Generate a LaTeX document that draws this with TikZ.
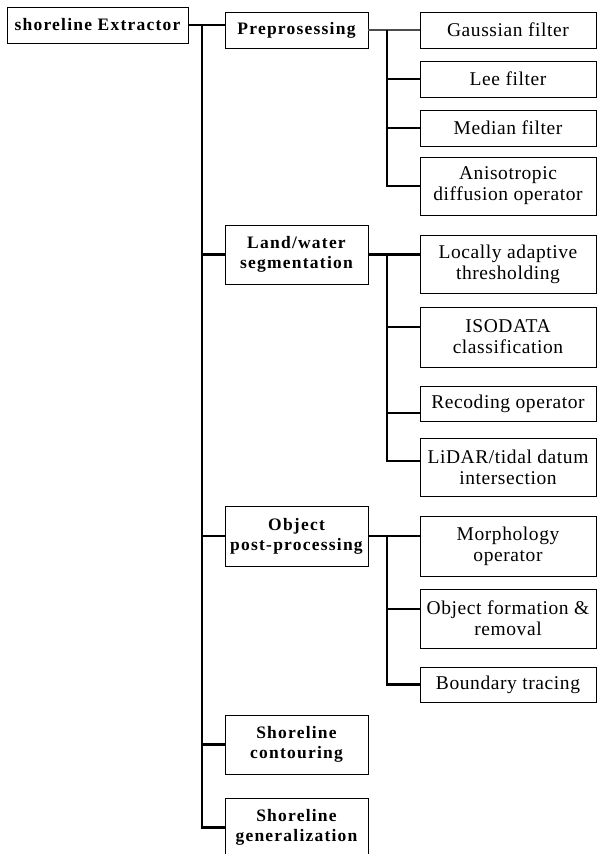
\documentclass[tikz,border=0pt]{standalone}
\usepackage{fontspec}
\setmainfont{Liberation Serif}[LetterSpace=3]
\newfontfamily\stagefont{Liberation Serif}[LetterSpace=7]
\usetikzlibrary{shadows}

\tikzset{
  box/.style={draw, fill=white, line width=0.9pt, align=center, inner sep=0pt,
    font=\fontsize{19.5}{21}\selectfont,
    drop shadow={shadow xshift=1.2pt, shadow yshift=-1.2pt, fill=black, opacity=0.85}},
  rootbox/.style={box, font=\fontsize{17.5}{20}\selectfont\stagefont\bfseries, minimum width=181pt, minimum height=36pt},
  stagebox/.style={box, font=\fontsize{17.5}{20}\selectfont\stagefont\bfseries, minimum width=143pt},
  leafbox/.style={box, minimum width=176pt},
  link/.style={line width=2.2pt},
  thinlink/.style={line width=1.1pt, black!70}
}

\begin{document}
\begin{tikzpicture}[x=1pt, y=-1pt]
                \useasboundingbox (0,0) rectangle (597,854);
                \clip (0,0) rectangle (597,854);
                \fill[white] (0,0) rectangle (597,854);

                \coordinate (trunk) at (202,0);
                \coordinate (pretrunk) at (387,0);
                \coordinate (lwtrunk) at (387,0);
                \coordinate (objtrunk) at (387,0);

                \node[rootbox] (root) at (97.5,25) {shoreline Extractor};

                \node[stagebox, minimum height=36pt] (pre) at (296.5,30) {Preprosessing};
                \node[stagebox, minimum height=59pt] (lw) at (296.5,254.5) {Land/water\\segmentation};
                \node[stagebox, minimum height=60pt] (obj) at (296.5,536) {Object\\post-processing};
                \node[stagebox, minimum height=59pt] (cont) at (296.5,744.5) {Shoreline\\contouring};
                \node[stagebox, minimum height=59pt] (gen) at (296.5,827.5) {Shoreline\\generalization};

                \node[leafbox, minimum height=36pt] (gauss) at (508,30) {Gaussian filter};
                \node[leafbox, minimum height=36pt] (lee) at (508,79) {Lee filter};
                \node[leafbox, minimum height=36pt] (median) at (508,128) {Median filter};
                \node[leafbox, minimum height=58pt] (aniso) at (508,186) {Anisotropic\\diffusion operator};

                \node[leafbox, minimum height=58pt] (local) at (508,264) {Locally adaptive\\thresholding};
                \node[leafbox, minimum height=60pt] (isodata) at (508,337) {ISODATA\\classification};
                \node[leafbox, minimum height=35pt] (recode) at (508,403.5) {Recoding operator};
                \node[leafbox, minimum height=58pt] (lidar) at (508,467) {LiDAR/tidal datum\\intersection};

                \node[leafbox, minimum height=60pt] (morph) at (508,546) {Morphology\\operator};
                \node[leafbox, minimum height=59pt] (form) at (508,618.5) {Object formation \&\\removal};
                \node[leafbox, minimum height=35pt] (bound) at (508,684.5) {Boundary tracing};

                \draw [link] (root.east) -- (root.east -| pre.west);
                \draw [link] (root.east -| trunk) -- (gen.west -| trunk) -- (gen.west);
                \draw [link] (trunk |- lw.west) -- (lw.west);
                \draw [link] (trunk |- obj.west) -- (obj.west);
                \draw [link] (trunk |- cont.west) -- (cont.west);

                \draw [thinlink] (pre.east) -- (pre.east -| gauss.west);
                \draw [link] (pre.east -| pretrunk) -- (aniso.west -| pretrunk) -- (aniso.west);
                \draw [link] (pretrunk |- lee.west) -- (lee.west);
                \draw [link] (pretrunk |- median.west) -- (median.west);

                \draw [link] (lw.east) -- (lw.east -| local.west);
                \draw [link] (lw.east -| lwtrunk) -- ([yshift=6pt]lidar.west -| lwtrunk) -- ([yshift=6pt]lidar.west);
                \draw [link] ([yshift=10pt]isodata.west -| lwtrunk) -- ([yshift=10pt]isodata.west);
                \draw [link] ([yshift=-9.5pt]recode.west -| lwtrunk) -- ([yshift=-9.5pt]recode.west);

                \draw [link] (obj.east) -- (obj.east -| morph.west);
                \draw [link] (obj.east -| objtrunk) -- (bound.west -| objtrunk) -- (bound.west);
                \draw [link] ([yshift=9.5pt]form.west -| objtrunk) -- ([yshift=9.5pt]form.west);
            \end{tikzpicture}
\end{document}
